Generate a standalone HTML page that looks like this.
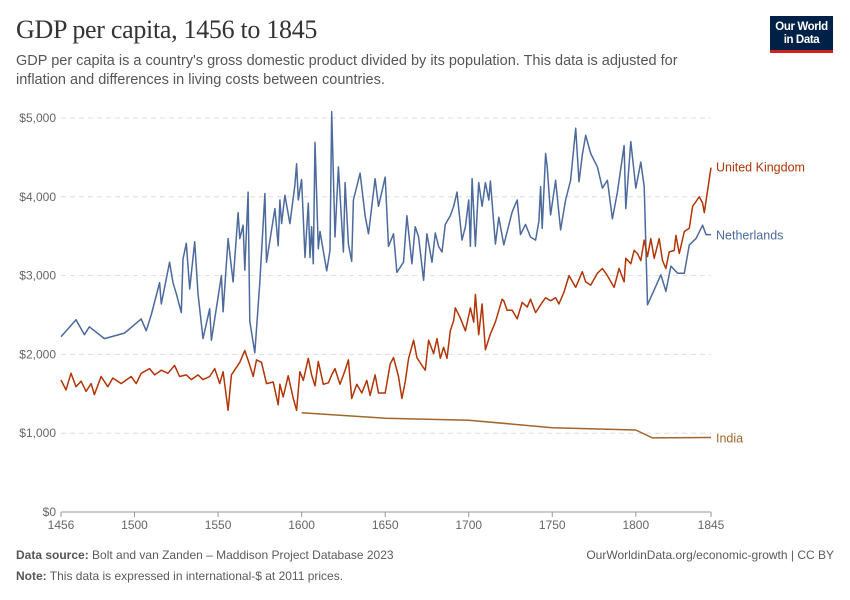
<!DOCTYPE html>
<html><head><meta charset="utf-8">
<style>
body{margin:0;background:#fff;width:850px;height:600px;overflow:hidden;font-family:"Liberation Sans",sans-serif;}
#title{position:absolute;left:16px;top:15px;font-family:"Liberation Serif",serif;font-size:26px;color:#333;letter-spacing:-0.3px;}
#sub{position:absolute;left:16px;top:52px;width:690px;font-size:14.5px;line-height:19px;color:#555;}
#logo{position:absolute;left:770px;top:16px;width:63px;height:37px;background:#002147;border-bottom:3px solid #ce261e;color:#fff;font-size:11.5px;line-height:13px;text-align:center;box-sizing:border-box;padding-top:5px;font-weight:bold;letter-spacing:-0.4px;}
.foot{position:absolute;font-size:12px;color:#5b5b5b;}
.foot b{color:#555;}
svg{position:absolute;left:0;top:0;}
</style></head><body>
<div id="title">GDP per capita, 1456 to 1845</div>
<div id="sub">GDP per capita is a country's gross domestic product divided by its population. This data is adjusted for inflation and differences in living costs between countries.</div>
<div id="logo">Our World<br>in Data</div>
<svg id="chart" width="850" height="600"></svg>
<div class="foot" style="left:16px;top:548px;"><b>Data source:</b> Bolt and van Zanden – Maddison Project Database 2023</div>
<div class="foot" style="right:16px;top:548px;">OurWorldinData.org/economic-growth | CC BY</div>
<div class="foot" style="left:16px;top:569px;"><b>Note:</b> This data is expressed in international-$ at 2011 prices.</div>
<script>
const nlYears=[1456,1465,1470,1473,1482,1494,1504,1507,1510,1515,1516,1521,1523,1525,1528,1529,1531,1533,1536,1538,1541,1545,1546,1552,1553,1556,1559,1562,1563,1565,1566,1568,1569,1572,1575,1578,1579,1584,1586,1587,1588,1590,1593,1596,1597,1598,1600,1602,1604,1605,1606,1607,1608,1610,1611,1615,1617,1618,1620,1622,1625,1626,1628,1630,1631,1635,1638,1640,1644,1646,1648,1650,1652,1655,1657,1661,1663,1666,1668,1670,1673,1675,1678,1680,1682,1684,1686,1689,1691,1693,1696,1698,1700,1701,1702,1704,1706,1708,1710,1712,1713,1716,1718,1721,1726,1729,1731,1734,1737,1740,1742,1743,1744,1746,1747,1749,1752,1755,1758,1761,1764,1766,1768,1770,1773,1777,1780,1783,1786,1789,1793,1794,1797,1800,1803,1805,1807,1811,1815,1818,1821,1825,1829,1832,1836,1840,1842,1845];
const nlValues=[2225,2440,2250,2350,2200,2270,2450,2300,2500,2910,2640,3170,2910,2770,2530,3210,3410,2830,3430,2770,2200,2580,2180,3000,2540,3470,2920,3800,3470,3640,3070,4060,2420,2020,2910,4040,3170,3850,3380,3960,3660,4020,3660,4150,4420,3960,4220,3230,3920,3230,3620,3150,4690,3340,3560,3060,3320,5080,3490,4380,3300,4180,3400,3180,3960,4300,3760,3530,4230,3880,4060,4250,3370,3530,3040,3170,3760,3150,3620,3490,2940,3530,3170,3540,3370,3300,3650,3760,3880,4060,3450,3620,3960,3370,4230,3370,4180,3880,4180,3960,4200,3400,3740,3390,3810,3960,3520,3650,3490,3450,3690,4130,3600,4550,4380,3770,4210,3580,3960,4210,4870,4190,4530,4780,4550,4380,4110,4210,3720,4060,4650,3850,4700,4110,4440,4130,2630,2820,3010,2800,3120,3030,3030,3390,3470,3640,3520,3520];
const ukYears=[1456,1459,1462,1465,1468,1471,1474,1476,1480,1484,1487,1492,1498,1501,1504,1509,1512,1516,1520,1524,1527,1531,1534,1538,1541,1545,1548,1551,1553,1556,1558,1563,1566,1569,1571,1573,1576,1579,1583,1586,1587,1589,1592,1595,1597,1599,1601,1604,1606,1608,1610,1613,1616,1618,1620,1623,1626,1628,1630,1633,1636,1639,1641,1644,1646,1650,1653,1655,1658,1660,1662,1664,1667,1669,1672,1674,1676,1679,1681,1683,1685,1687,1689,1691,1692,1695,1698,1701,1703,1704,1706,1708,1710,1713,1716,1720,1721,1723,1726,1729,1732,1735,1737,1740,1744,1746,1749,1752,1754,1757,1760,1764,1768,1770,1773,1777,1780,1783,1787,1790,1793,1794,1797,1799,1801,1803,1805,1807,1809,1811,1814,1816,1818,1820,1823,1824,1826,1829,1832,1834,1836,1838,1840,1841,1845];
const ukValues=[1675,1550,1760,1590,1660,1530,1630,1490,1720,1590,1700,1630,1720,1630,1760,1820,1740,1800,1760,1860,1720,1740,1680,1740,1680,1720,1820,1630,1780,1290,1740,1900,2050,1860,1720,1930,1900,1630,1650,1360,1620,1460,1730,1440,1290,1780,1670,1950,1740,1600,1910,1620,1640,1740,1820,1620,1800,1930,1440,1620,1510,1670,1480,1740,1510,1510,1880,1960,1720,1440,1650,1950,2180,1960,1860,1800,2180,2010,2200,1950,2090,1950,2300,2430,2590,2460,2300,2590,2410,2760,2250,2640,2060,2260,2410,2700,2680,2560,2560,2450,2660,2600,2700,2530,2660,2720,2680,2720,2640,2790,3000,2850,3050,2920,2880,3030,3090,3000,2850,3090,2920,3220,3150,3320,3280,3190,3450,3240,3470,3220,3470,3190,3090,3300,3320,3510,3280,3560,3600,3880,3940,4000,3920,3800,4370];
const inYears=[1600,1650,1700,1750,1800,1810,1845];
const inValues=[1260,1190,1165,1070,1040,940,945];
const yTicks=[0,1000,2000,3000,4000,5000];
const yTickLabels=["$0","$1,000","$2,000","$3,000","$4,000","$5,000"];
const xTicks=[1456,1500,1550,1600,1650,1700,1750,1800,1845];

const svg=document.getElementById('chart');
const NS='http://www.w3.org/2000/svg';
const X=y=>61+(y-1456)*(650/389);
const Y=v=>512-v*0.0788;
function mk(tag,attrs){const e=document.createElementNS(NS,tag);for(const k in attrs)e.setAttribute(k,attrs[k]);svg.appendChild(e);return e;}
yTicks.forEach((t,i)=>{
  if(t>0){const g=mk('line',{x1:61,x2:711,y1:Y(t),y2:Y(t),stroke:'#ddd','stroke-dasharray':'5,4'});
  
  }
  const l=mk('text',{x:56,y:Y(t)+4,'text-anchor':'end','font-size':12,fill:'#666','font-family':'Liberation Sans, sans-serif'});
  l.textContent=yTickLabels[i];
  
  
});
const ax=mk('line',{x1:61,x2:711,y1:512,y2:512,stroke:'#999'});


xTicks.forEach(t=>{
  const tk=mk('line',{x1:X(t),x2:X(t),y1:512,y2:517,stroke:'#999'});
  
  
  const l=mk('text',{x:X(t),y:529,'text-anchor':'middle','font-size':12,fill:'#666','font-family':'Liberation Sans, sans-serif'});
  l.textContent=t;
  
  
});
function series(years,vals,color,name,label,ly){
  const d=years.map((y,i)=>(i?'L':'M')+X(y).toFixed(1)+','+Y(vals[i]).toFixed(1)).join('');
  const p=mk('path',{d:d,fill:'none',stroke:color,'stroke-width':1.5,'stroke-linejoin':'round'});
  
  
  const t=mk('text',{x:716,y:ly,'font-size':12.5,fill:color,'font-family':'Liberation Sans, sans-serif'});
  t.textContent=label;
  
  
}
series(inYears,inValues,'#a2662c','india','India',Y(inValues[inValues.length-1])+5);
series(nlYears,nlValues,'#4c6a9c','netherlands','Netherlands',Y(nlValues[nlValues.length-1])+5);
series(ukYears,ukValues,'#b13507','united-kingdom','United Kingdom',Y(ukValues[ukValues.length-1])+4);
</script>
</body></html>
